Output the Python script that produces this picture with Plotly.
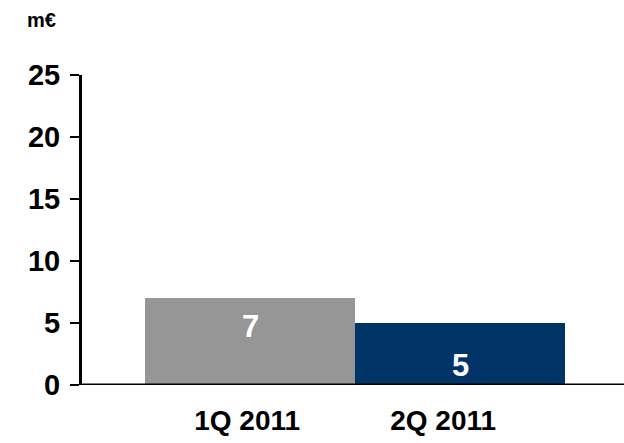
import plotly.graph_objects as go

# Quarterly figures, million euro
quarters = ["1Q 2011", "2Q 2011"]
values = [7, 5]
bar_colors = ["#969696", "#003366"]
y_ticks = [0, 5, 10, 15, 20, 25]

FONT = "Liberation Sans, Arial, sans-serif"

fig = go.Figure(
    go.Bar(
        x=quarters,
        y=values,
        marker=dict(color=bar_colors, line=dict(width=0)),
        width=1.0,
        hoverinfo="skip",
    )
)

# value labels inside each bar
label_heights = [4.72, 1.6]
for q, v, h in zip(quarters, values, label_heights):
    fig.add_annotation(
        x=q, y=h, text=str(v), showarrow=False,
        font=dict(family=FONT, size=31, color="white", weight="bold"),
        xanchor="center", yanchor="middle",
    )

# unit label
fig.add_annotation(
    xref="paper", yref="paper", x=-0.105, y=1.176,
    text="m€", showarrow=False,
    font=dict(family=FONT, size=20, color="black", weight="bold"),
    xanchor="left", yanchor="middle",
)

# baseline running out to the right edge of the figure
fig.add_shape(
    type="line", xref="paper", x0=-0.003, x1=1.06, yref="y", y0=0, y1=0,
    line=dict(color="black", width=3), layer="above",
)

fig.update_layout(
    width=624, height=443, autosize=False,
    margin=dict(l=82, r=0, t=75, b=58, autoexpand=False),
    paper_bgcolor="white", plot_bgcolor="white",
    showlegend=False,
    bargap=0,
    xaxis=dict(
        type="category",
        range=[-0.8, 1.78],
        automargin=False,
        showline=False,
        ticks="", showgrid=False, zeroline=False,
        # quarter labels sit slightly left of the bar centres
        tickvals=[-0.014, 0.919],
        ticktext=quarters,
        tickfont=dict(family=FONT, size=28, color="black", weight="bold"),
        ticklabelstandoff=16,
    ),
    yaxis=dict(
        range=[0, 25],
        tickvals=y_ticks,
        automargin=False,
        showline=True, linecolor="black", linewidth=3,
        ticks="outside", ticklen=9, tickwidth=2, tickcolor="black",
        showgrid=False, zeroline=False,
        tickfont=dict(family=FONT, size=29, color="black", weight="bold"),
        ticklabelstandoff=4,
    ),
)

fig.write_html(
    "out.html",
    post_script="document.body.style.margin='0';document.body.style.overflow='hidden';",
)
